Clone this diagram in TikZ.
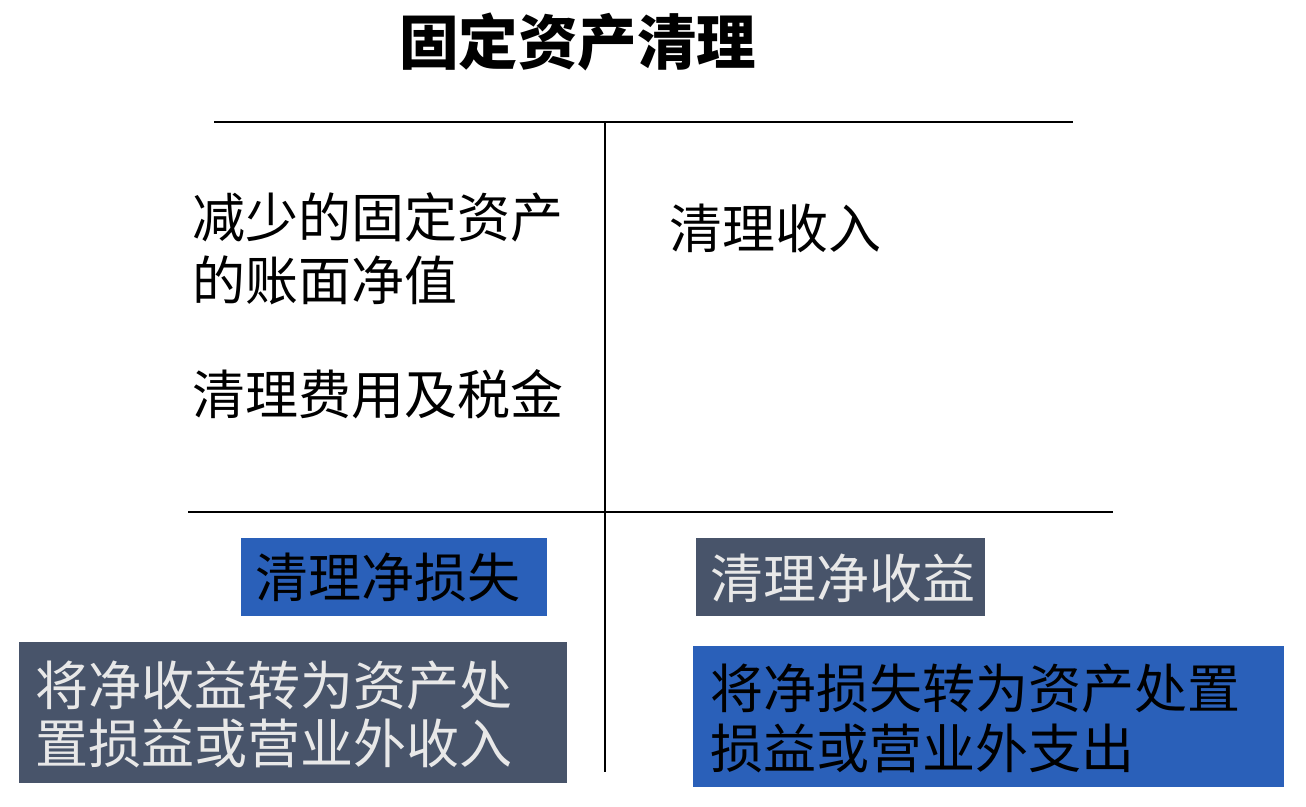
\documentclass[tikz,border=0pt]{standalone}
\usepackage{fontspec}
\newfontfamily\cjk{Noto Sans CJK SC}
\definecolor{boxblue}{HTML}{2A60B9}
\definecolor{boxslate}{HTML}{48546A}
\definecolor{lighttext}{HTML}{E8E8E8}
\tikzset{
  txt/.style={anchor=base west, inner sep=0pt, font=\cjk\fontsize{53}{60}\selectfont},
  boxtxt/.style={anchor=base west, inner sep=0pt, font=\cjk\fontsize{53}{60}\selectfont},
  ttl/.style={anchor=base west, inner sep=0pt, font=\cjk\bfseries\fontsize{59.5}{66}\selectfont},
  rule/.style={line width=2pt, black},
}
\begin{document}
\begin{tikzpicture}[x=1pt,y=-1pt]
\useasboundingbox (0,0) rectangle (1306,806);
\fill[white] (0,0) rectangle (1306,806);
% title
\node[ttl] (title) at (399,64) {固定资产清理};
% T-account lines
\coordinate (tl) at (214,122);
\coordinate (tr) at (1073,122);
\coordinate (vt) at (605,122);
\coordinate (vb) at (605,772);
\coordinate (bl) at (188,512);
\coordinate (br) at (1113,512);
\draw[rule] (tl) -- (tr);
\draw[rule] (vt) -- (vb);
\draw[rule] (bl) -- (br);
% debit side texts
\node[txt] (d1) at (192,237) {减少的固定资产};
\node[txt] (d2) at (192,300) {的账面净值};
\node[txt] (d3) at (192,414) {清理费用及税金};
% credit side text
\node[txt] (c1) at (669,248) {清理收入};
% boxes
\fill[boxblue] (241,538) rectangle (547,616);
\node[boxtxt, text=black] (loss) at (255,597) {清理净损失};
\fill[boxslate] (696,538) rectangle (985,616);
\node[boxtxt, text=lighttext] (gain) at (710,598) {清理净收益};
\fill[boxslate] (19,642) rectangle (567,783);
\node[boxtxt, text=lighttext] (g1) at (35,705) {将净收益转为资产处};
\node[boxtxt, text=lighttext] (g2) at (35,763) {置损益或营业外收入};
\fill[boxblue] (693,646) rectangle (1284,787);
\node[boxtxt, text=black] (l1) at (710,708) {将净损失转为资产处置};
\node[boxtxt, text=black] (l2) at (710,768) {损益或营业外支出};
\end{tikzpicture}
\end{document}
